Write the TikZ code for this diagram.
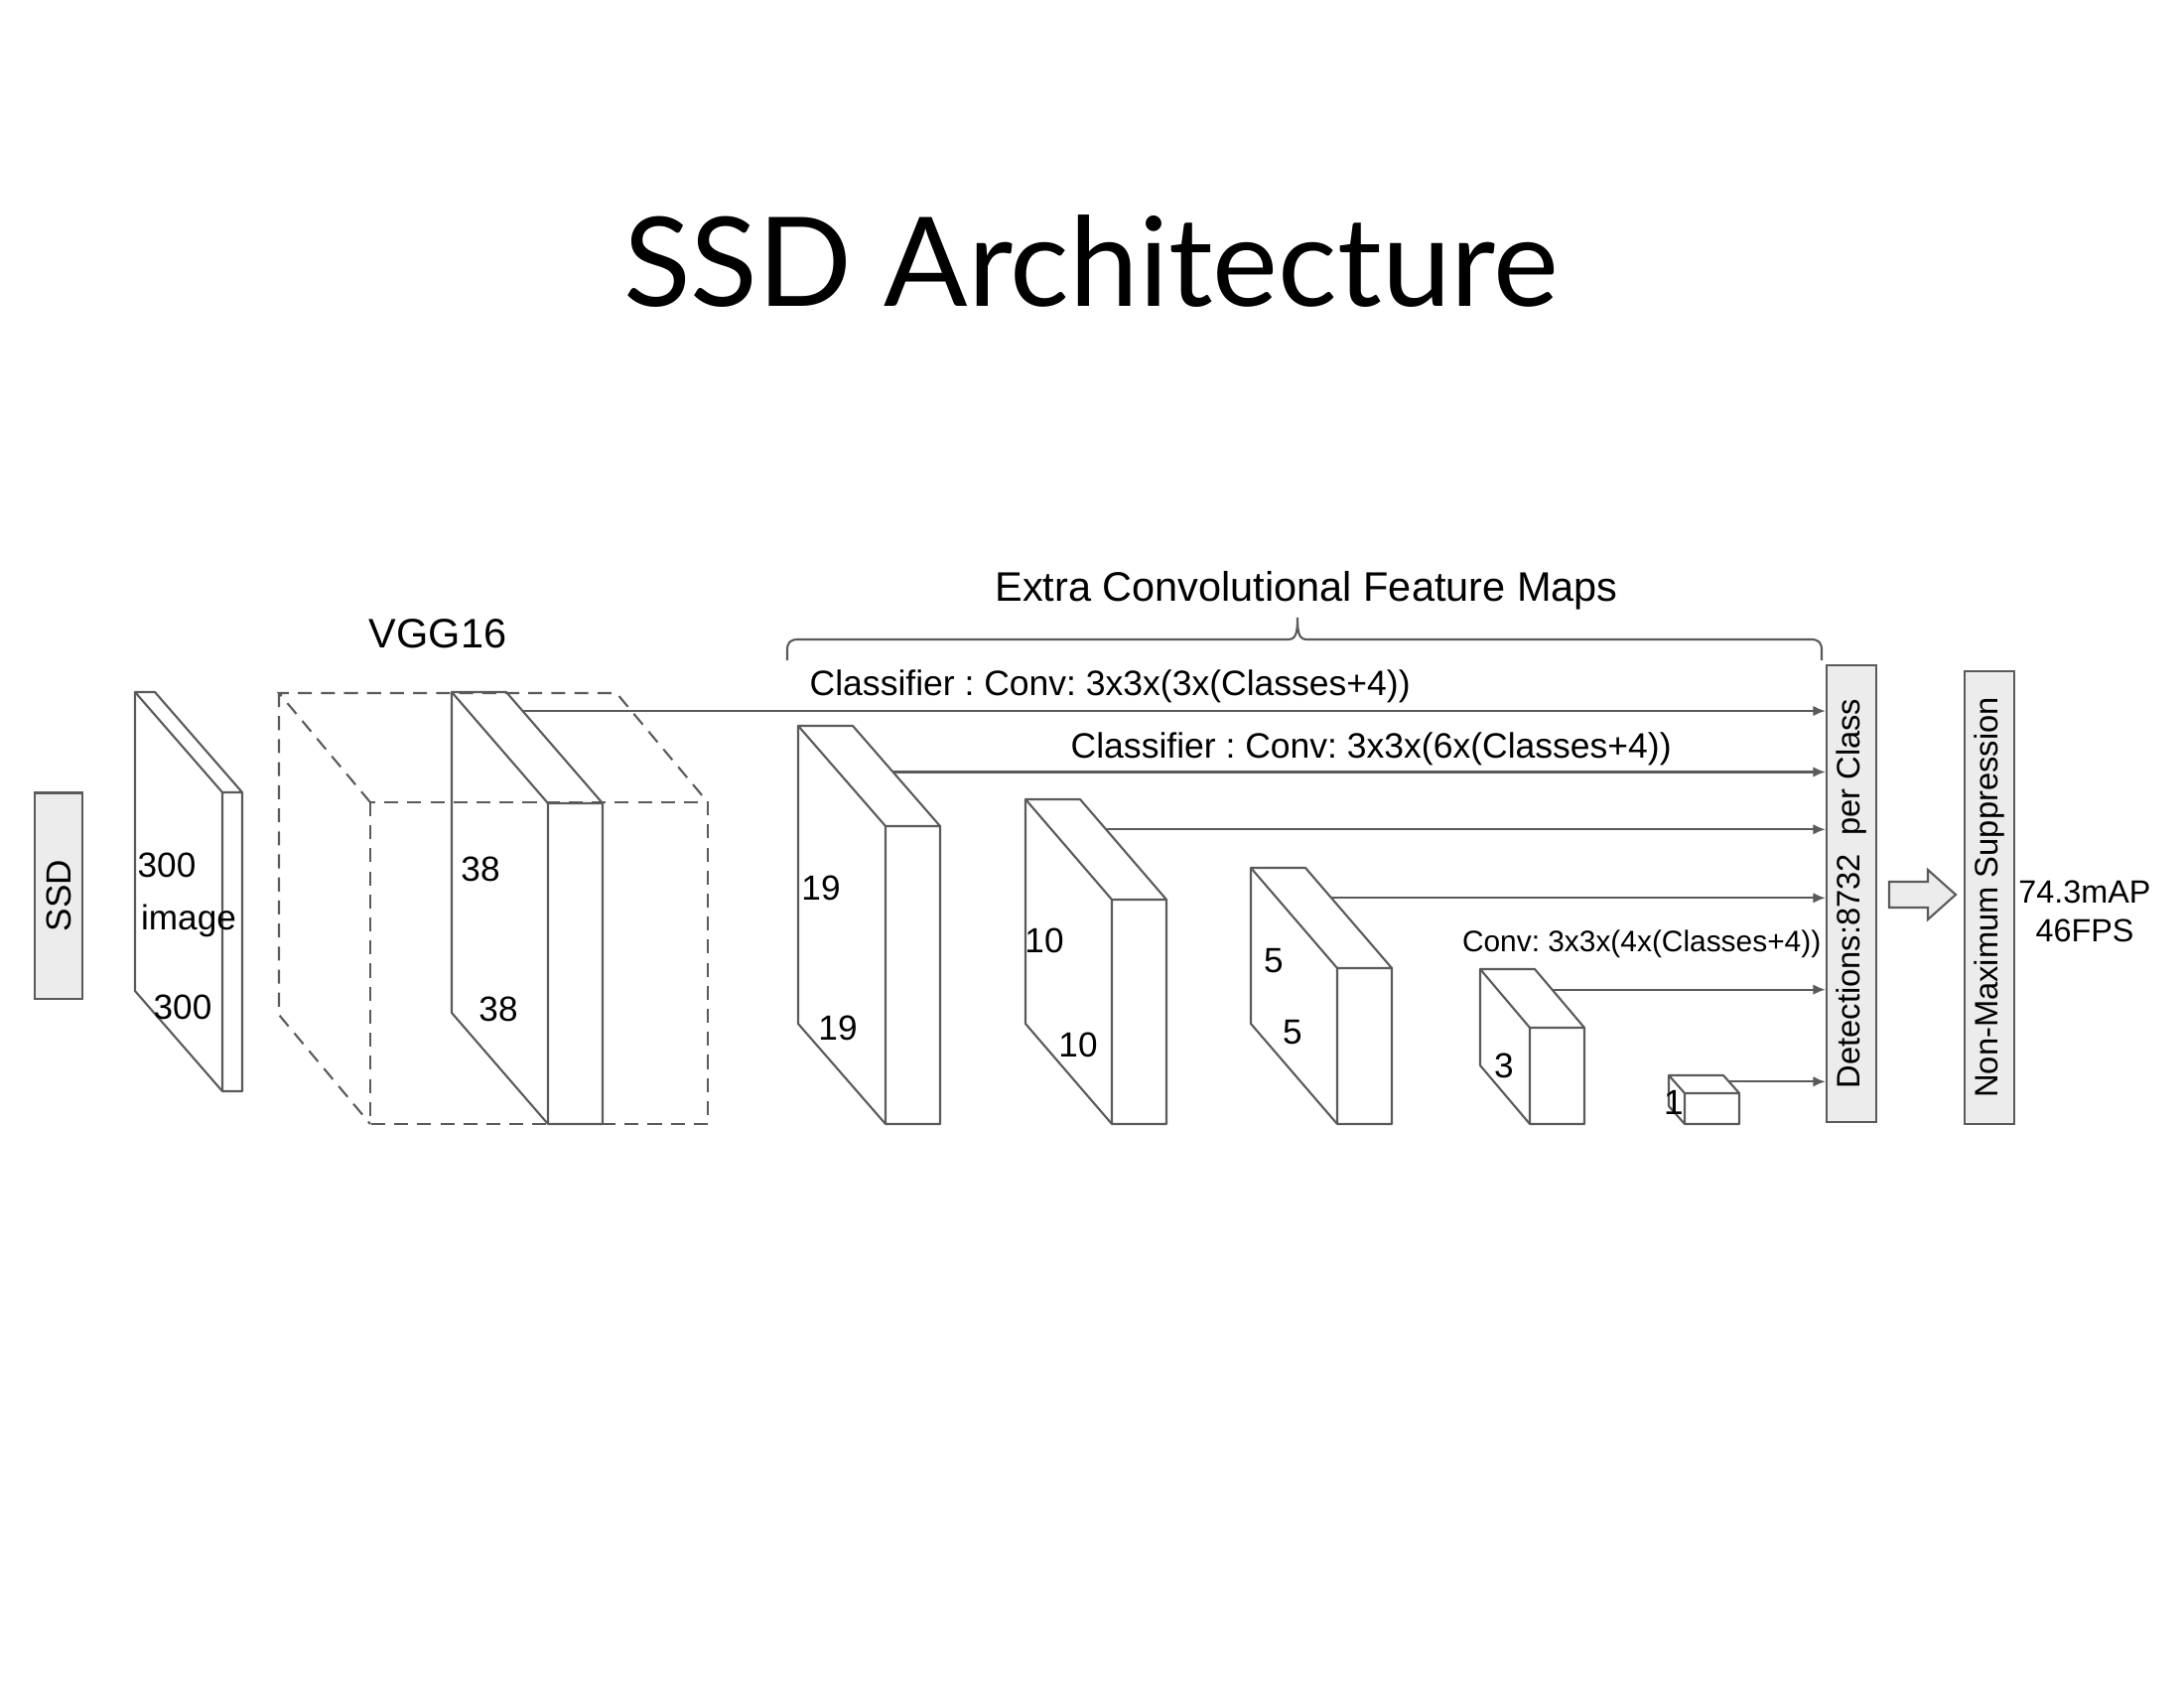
\documentclass[tikz,border=0pt]{standalone}
\usepackage{fontspec}
\setmainfont{Liberation Sans}
\newfontfamily\titlefont{Lato}
\usetikzlibrary{arrows.meta,calc}
\definecolor{linegray}{RGB}{90,90,90}
\definecolor{boxgray}{RGB}{236,236,236}
\def\lw{0.6pt}
\def\numsize{\fontsize{10}{12}\selectfont}
\def\clssize{\fontsize{10.1}{12}\selectfont}
\def\headsize{\fontsize{11.8}{14}\selectfont}
\def\boxsize{\fontsize{9.3}{11}\selectfont}
\frenchspacing

\begin{document}
\begin{tikzpicture}[x=0.01cm,y=-0.01cm,
    slab/.style={draw=linegray, line width=\lw, line join=round},
    vgg/.style={draw=linegray, line width=\lw, dash pattern=on 4pt off 2.6pt},
    feed/.style={draw=linegray, line width=\lw, -{Latex[length=3.6pt,width=3pt]}},
    graybox/.style={draw=linegray, fill=boxgray, line width=\lw, inner sep=0pt},
    lbl/.style={inner sep=0pt, font=\numsize}]

\useasboundingbox (0,0) rectangle (2200,1700);

% Title
\node[anchor=base, font=\titlefont\fontsize{35.5}{42}\selectfont] (title) at (1099,308) {SSD Architecture};

% Input and output boxes
\node[graybox, minimum width=0.48cm, minimum height=2.07cm] (ssd) at (59,902) {\rotatebox{90}{\fontsize{10}{12}\selectfont SSD}};
\node[graybox, minimum width=0.5cm, minimum height=4.6cm] (det) at (1865,900) {\rotatebox{90}{\boxsize Detections:8732\ \ per Class}};
\node[graybox, minimum width=0.5cm, minimum height=4.56cm] (nms) at (2004,904) {\rotatebox{90}{\boxsize Non-Maximum Suppression}};
\node[align=center, font=\fontsize{9.2}{11.2}\selectfont, inner sep=0pt] (score) at (2100,918) {74.3mAP\\46FPS};

% Feature maps: name/x/y/thickness/dx/dy/height/arrow start
\foreach \n/\x/\y/\t/\dx/\dy/\h/\f in {img/136/697/20/88/101/301/0,
    c38/455/697/55/97/112/323/0.17, c19/804/731/55/88/101/300/0.46,
    c10/1033/805/55/87/101/226/0.30, c5/1260/874/55/87/101/157/0.30,
    c3/1491/976/55/50/59/97/0.35, c1/1681/1083/55/16/18/31/0.35} {
    \coordinate (\n-A) at (\x,\y);
    \coordinate (\n-B) at (\x+\t,\y);
    \coordinate (\n-C) at (\x+\dx,\y+\dy);
    \coordinate (\n-D) at (\x+\dx+\t,\y+\dy);
    \coordinate (\n-E) at (\x+\dx,\y+\dy+\h);
    \coordinate (\n-F) at (\x+\dx+\t,\y+\dy+\h);
    \coordinate (\n-G) at (\x,\y+\h);
    \draw[slab] (\n-C) -- (\n-A) -- (\n-B) -- (\n-D) -- (\n-C) -- (\n-E) -- (\n-F) -- (\n-D); % top and front
    \draw[slab] (\n-A) -- (\n-G) -- (\n-E); % side
    \coordinate (\n-out) at ($(\n-B)!\f!(\n-D)$);
}

% VGG16 block (dashed)
\draw[vgg] (373,808) rectangle (713,1132); % front face
\draw[vgg] (373,808) -- (281,698) -- (621,698) -- (713,808); % top
\draw[vgg] (281,698) -- (281,1022) -- (373,1132); % left side

% Classifier outputs
\foreach \n in {c38,c19,c10,c5,c3,c1} {
    \draw[feed] (\n-out) -- (\n-out -| det.west);
}

% Block arrow to NMS
\draw[graybox] (1903,888) -- (1942,888) -- (1942,876) -- (1970,901) -- (1942,926) -- (1942,914) -- (1903,914) -- cycle;

% Brace over extra feature maps
\draw[draw=linegray, line width=\lw] (793,665) -- (793,655) .. controls (793,647) and (796,644) .. (804,644) -- (1297,644)
    .. controls (1305,644) and (1307,639) .. (1307,622) .. controls (1307,639) and (1309,644) .. (1317,644)
    -- (1824,644) .. controls (1832,644) and (1835,647) .. (1835,655) -- (1835,665);

% Headings
\node[font=\headsize, inner sep=0pt] (vgglbl) at (441,638) {VGG16};
\node[font=\headsize, inner sep=0pt] (extralbl) at (1316,595) {Extra Convolutional Feature Maps};
\node[font=\clssize, inner sep=0pt, anchor=west] (cls3) at (815,691) {Classifier : Conv: 3x3x(3x(Classes+4))};
\node[font=\clssize, inner sep=0pt, anchor=west] (cls6) at (1078,754) {Classifier : Conv: 3x3x(6x(Classes+4))};
\node[font=\fontsize{8.5}{10}\selectfont, inner sep=0pt, anchor=east] (cls4) at (1835,951) {Conv: 3x3x(4x(Classes+4))};

% Sizes
\node[lbl] (img-w) at (168,871) {300};
\node[lbl] (img-t) at (190,927) {image};
\node[lbl] (img-h) at (184,1014) {300};
\node[lbl] (c38-w) at (484,875) {38};
\node[lbl] (c38-h) at (502,1016) {38};
\node[lbl] (c19-w) at (827,894) {19};
\node[lbl] (c19-h) at (844,1035) {19};
\node[lbl] (c10-w) at (1052,947) {10};
\node[lbl] (c10-h) at (1086,1052) {10};
\node[lbl] (c5-w) at (1283,968) {5};
\node[lbl] (c5-h) at (1302,1040) {5};
\node[lbl] (c3-w) at (1515,1073) {3};
\node[lbl] (c1-w) at (1686,1110) {1};

\end{tikzpicture}
\end{document}
